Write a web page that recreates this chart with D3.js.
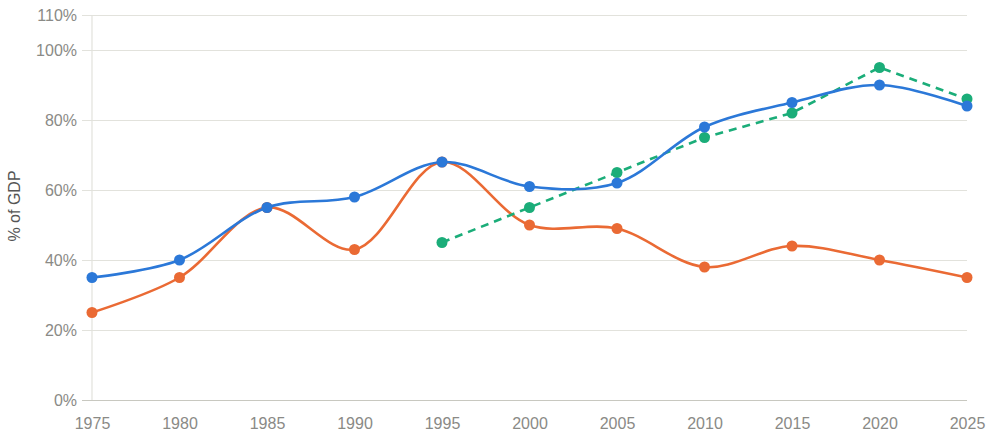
<!DOCTYPE html>
<html>
<head>
<meta charset="utf-8">
<script src="https://cdn.jsdelivr.net/npm/d3@7"></script>
<style>
  body { margin: 0; background: #fff; }
  text { font-family: "Liberation Sans", Arial, sans-serif; }
</style>
</head>
<body>
<div id="the_chart"></div>
<script>
var years = [1975, 1980, 1985, 1990, 1995, 2000, 2005, 2010, 2015, 2020, 2025];
var blueVals = [35, 40, 55, 58, 68, 61, 62, 78, 85, 90, 84];
var orangeVals = [25, 35, 55, 43, 68, 50, 49, 38, 44, 40, 35];
var greenYears = [1995, 2000, 2005, 2010, 2015, 2020, 2025];
var greenVals = [45, 55, 65, 75, 82, 95, 86];
var yTicks = [0, 20, 40, 60, 80, 100, 110];

function gen_vis() {
    var w = 990, h = 440;

    var svg = d3.select("#the_chart").append("svg")
        .attr("width", w)
        .attr("height", h);

    var xscale = d3.scaleLinear().domain([1975, 2025]).range([92, 967]);
    var yscale = d3.scaleLinear().domain([0, 110]).range([400, 15]);

    // gridlines + y labels
    var yaxis = d3.axisLeft(yscale)
        .tickValues(yTicks)
        .tickSize(-(967 - 82))
        .tickPadding(6)
        .tickFormat(function (d) { return d + "%"; });

    var gy = svg.append("g")
        .attr("transform", "translate(82,0)")
        .call(yaxis);
    gy.select(".domain").remove();
    gy.selectAll("line")
        .attr("x1", 0).attr("x2", 967 - 82)
        .attr("stroke", function (d) { return d === 0 ? "#c8c8c0" : "#e2e2dc"; })
        .attr("stroke-width", 1.2);
    gy.selectAll("text")
        .attr("x", -5)
        .style("font-size", "16px")
        .style("fill", "#8a8a86");

    // vertical axis line
    svg.append("line")
        .attr("x1", xscale(1975)).attr("x2", xscale(1975))
        .attr("y1", yscale(110)).attr("y2", yscale(0))
        .attr("stroke", "#e2e2dc").attr("stroke-width", 1.2);

    // x labels
    var xaxis = d3.axisBottom(xscale)
        .tickValues(years)
        .tickSize(0)
        .tickPadding(18)
        .tickFormat(d3.format("d"));
    var gx = svg.append("g")
        .attr("transform", "translate(0," + yscale(0) + ")")
        .call(xaxis);
    gx.select(".domain").remove();
    gx.selectAll("text")
        .style("font-size", "16px")
        .style("fill", "#8a8a86");

    // y title
    svg.append("text")
        .attr("transform", "translate(20,206) rotate(-90)")
        .attr("text-anchor", "middle")
        .style("font-size", "16px")
        .style("fill", "#555")
        .text("% of GDP");

    var smooth = d3.line()
        .x(function (d) { return xscale(d[0]); })
        .y(function (d) { return yscale(d[1]); })
        .curve(d3.curveCatmullRom.alpha(0.5));
    var straight = d3.line()
        .x(function (d) { return xscale(d[0]); })
        .y(function (d) { return yscale(d[1]); });

    var series = [
        { pts: d3.zip(years, orangeVals), color: "#ea6a34", line: smooth, dash: null },
        { pts: d3.zip(greenYears, greenVals), color: "#1bad79", line: straight, dash: "8,6" },
        { pts: d3.zip(years, blueVals), color: "#2b78d8", line: smooth, dash: null }
    ];

    series.forEach(function (s) {
        svg.append("path")
            .datum(s.pts)
            .attr("d", s.line)
            .attr("fill", "none")
            .attr("stroke", s.color)
            .attr("stroke-width", 2.6)
            .attr("stroke-dasharray", s.dash);
        svg.selectAll(null)
            .data(s.pts)
            .enter().append("circle")
            .attr("cx", function (d) { return xscale(d[0]); })
            .attr("cy", function (d) { return yscale(d[1]); })
            .attr("r", 5.5)
            .attr("fill", s.color);
    });
}

gen_vis();
</script>
</body>
</html>
